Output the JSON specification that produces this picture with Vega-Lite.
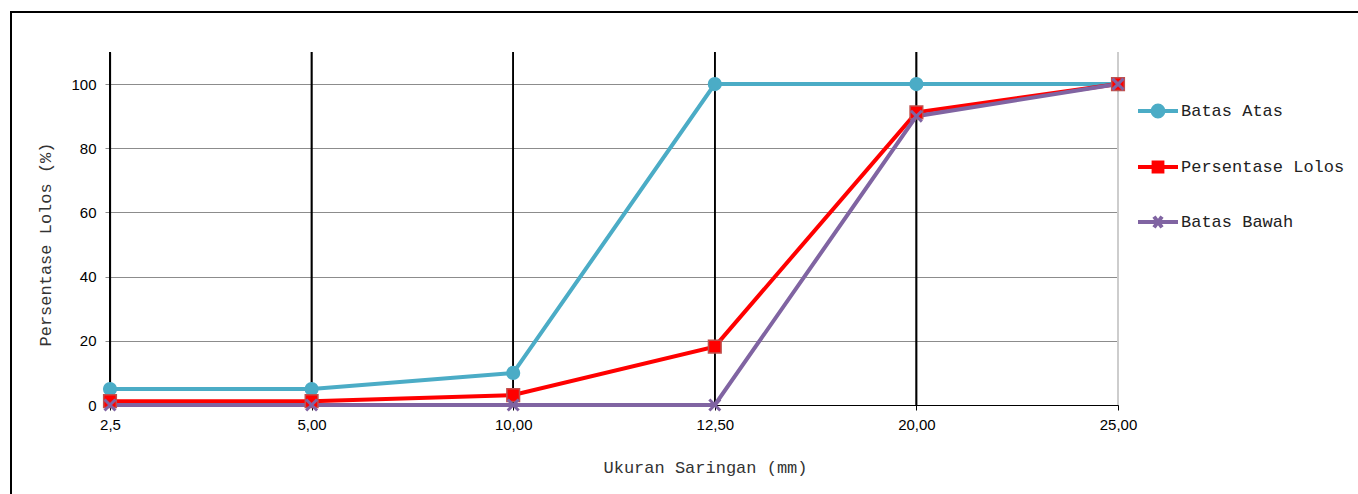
{
  "$schema": "https://vega.github.io/schema/vega-lite/v6.json",
  "autosize": "none",
  "padding": {"left": 11, "top": 12, "right": -3, "bottom": -3},
  "width": 1350,
  "height": 485,
  "background": "white",
  "config": {
    "view": {"stroke": "black", "strokeWidth": 2},
    "axis": {"labelFont": "Liberation Sans", "labelFontSize": 15, "labelColor": "black", "titleFont": "Liberation Mono", "titleFontSize": 17, "titleFontWeight": "normal", "titleColor": "#333"}
  },
  "data": {
    "values": [
      {"ukuran": "2,5", "seri": "Batas Atas", "nilai": 5},
      {"ukuran": "5,00", "seri": "Batas Atas", "nilai": 5},
      {"ukuran": "10,00", "seri": "Batas Atas", "nilai": 10},
      {"ukuran": "12,50", "seri": "Batas Atas", "nilai": 100},
      {"ukuran": "20,00", "seri": "Batas Atas", "nilai": 100},
      {"ukuran": "25,00", "seri": "Batas Atas", "nilai": 100},
      {"ukuran": "2,5", "seri": "Persentase Lolos", "nilai": 1.2},
      {"ukuran": "5,00", "seri": "Persentase Lolos", "nilai": 1.2},
      {"ukuran": "10,00", "seri": "Persentase Lolos", "nilai": 3.1},
      {"ukuran": "12,50", "seri": "Persentase Lolos", "nilai": 18.2},
      {"ukuran": "20,00", "seri": "Persentase Lolos", "nilai": 91.2},
      {"ukuran": "25,00", "seri": "Persentase Lolos", "nilai": 100},
      {"ukuran": "2,5", "seri": "Batas Bawah", "nilai": 0},
      {"ukuran": "5,00", "seri": "Batas Bawah", "nilai": 0},
      {"ukuran": "10,00", "seri": "Batas Bawah", "nilai": 0},
      {"ukuran": "12,50", "seri": "Batas Bawah", "nilai": 0},
      {"ukuran": "20,00", "seri": "Batas Bawah", "nilai": 90},
      {"ukuran": "25,00", "seri": "Batas Bawah", "nilai": 100}
    ]
  },
  "encoding": {
    "x": {
      "field": "ukuran", "type": "ordinal",
      "scale": {"type": "point", "domain": ["2,5", "5,00", "10,00", "12,50", "20,00", "25,00"], "range": [99, 1107], "padding": 0},
      "axis": {
        "orient": "bottom", "offset": -92, "labelAngle": 0,
        "title": "Ukuran Saringan (mm)", "titleX": 694, "titleY": 62, "titleBaseline": "middle", "titleAlign": "center", "titleAnchor": null,
        "grid": false,
        "domainColor": "black", "domainWidth": 1,
        "tickColor": "black", "tickSize": 5, "labelPadding": 7
      }
    },
    "y": {
      "field": "nilai", "type": "quantitative",
      "scale": {"domain": [0, 110], "range": [393, 40], "nice": false, "zero": true},
      "axis": {
        "orient": "left", "offset": -99,
        "values": [0, 20, 40, 60, 80, 100],
        "title": "Persentase Lolos (%)", "titleX": -65, "titleY": 232, "titleBaseline": "middle", "titleAlign": "center", "titleAngle": -90, "titleAnchor": null,
        "grid": true, "gridColor": "#8c8c8c", "gridWidth": 1,
        "domainColor": "black", "domainWidth": 1.2,
        "tickColor": "#8c8c8c", "tickSize": 5, "labelPadding": 9
      }
    }
  },
  "layer": [
    {
      "mark": {"type": "rule", "strokeWidth": 1.5},
      "encoding": {
        "y": {"datum": 0},
        "y2": {"datum": 110},
        "color": {"condition": {"test": "datum.ukuran === '25,00'", "value": "#cccccc"}, "value": "black"}
      }
    },
    {
      "mark": {"type": "line", "strokeWidth": 4},
      "encoding": {
        "order": {"value": null},
        "color": {
          "field": "seri", "type": "nominal",
          "scale": {"domain": ["Batas Atas", "Persentase Lolos", "Batas Bawah"], "range": ["#4BACC6", "#FF0000", "#8064A2"]},
          "legend": {
            "title": null, "orient": "none", "legendX": 1125, "legendY": 77, "padding": 0,
            "symbolSize": 1600, "rowPadding": 20, "labelOffset": 1, "labelLimit": 400,
            "labelFont": "Liberation Mono", "labelFontSize": 17, "labelColor": "#222",
            "encode": {
              "symbols": {
                "update": {
                  "shape": {"signal": "datum.value === 'Batas Atas' ? 'M-1,0H1M0.27,0A0.27,0.27 0 1,1 -0.27,0A0.27,0.27 0 1,1 0.27,0Z' : (datum.value === 'Persentase Lolos' ? 'M-1,0H1M-0.22,-0.22H0.22V0.22H-0.22Z' : 'M-1,0H1M-0.2,-0.27L0.2,0.27M-0.2,0.27L0.2,-0.27')"},
                  "fill": {"signal": "scale('color', datum.value)"},
                  "stroke": {"signal": "scale('color', datum.value)"},
                  "strokeWidth": {"value": 4},
                  "opacity": {"value": 1}
                }
              }
            }
          }
        }
      }
    },
    {
      "mark": {"type": "point", "filled": true, "opacity": 1},
      "encoding": {
        "shape": {"condition": [{"test": "datum.seri === 'Batas Atas'", "value": "circle"}, {"test": "datum.seri === 'Persentase Lolos'", "value": "square"}], "value": "M-1,-1L1,1M-1,1L1,-1"},
        "fill": {"condition": [{"test": "datum.seri === 'Batas Atas'", "value": "#4BACC6"}, {"test": "datum.seri === 'Persentase Lolos'", "value": "#FF0000"}], "value": "#8064A2"},
        "stroke": {"condition": [{"test": "datum.seri === 'Batas Atas'", "value": "#4BACC6"}, {"test": "datum.seri === 'Persentase Lolos'", "value": "#C0504D"}], "value": "#8064A2"},
        "strokeWidth": {"condition": {"test": "datum.seri === 'Batas Bawah'", "value": 3}, "value": 1.5},
        "size": {"condition": {"test": "datum.seri === 'Batas Bawah'", "value": 120}, "value": 160}
      }
    }
  ]
}
